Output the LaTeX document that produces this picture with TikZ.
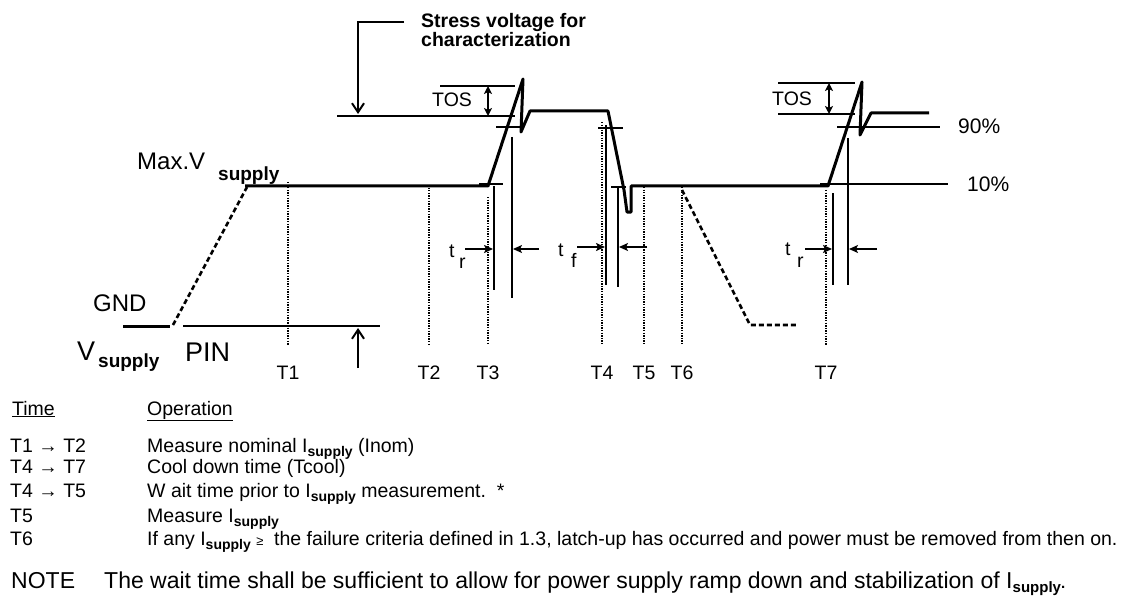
\documentclass[tikz,border=0pt]{standalone}
\usepackage{fontspec}
\setmainfont{Liberation Sans}
\usetikzlibrary{arrows.meta}

% bold lowered "supply" index
\newcommand{\supplyidx}[1][14]{\raisebox{-0.4ex}{\fontsize{#1}{#1}\selectfont\bfseries supply}}
\newcommand{\isupply}{I\supplyidx}

\begin{document}
\begin{tikzpicture}[
    x=1pt, y=-1pt,
    >=Stealth,
    wave/.style={line width=3pt, line join=round},
    thin line/.style={line width=1.6pt},
    mid line/.style={line width=2.4pt},
    dotted line/.style={line width=1.3pt, dash pattern=on 1.3pt off 1.3pt},
    dashed wave/.style={line width=2.6pt, dash pattern=on 5pt off 3pt},
    dim arrow/.style={thin line, -{Stealth[length=9pt, width=8pt, inset=2pt]}},
    tos arrow/.style={thin line, {Stealth[length=8pt, width=8pt, inset=2pt]}-{Stealth[length=8pt, width=8pt, inset=2pt]}},
    open arrow/.style={line width=2pt, -{Straight Barb[length=9pt, width=12pt]}},
    lbl/.style={inner sep=0pt, anchor=base west, font=\fontsize{19.5}{22}\selectfont},
    tlbl/.style={inner sep=0pt, anchor=base, font=\fontsize{19.5}{22}\selectfont}
]

\useasboundingbox (0,0) rectangle (1126,596);

% ==================== SUPPLY RAMP ====================
\draw[wave] (123,326) -- (170,326);
\draw[dashed wave] (173,325) -- (247,187);
\draw[mid line] (183,326) -- (380,326);
\draw[open arrow] (358,368) -- (358,328);

% Labels
\node[lbl, font=\fontsize{24}{26}\selectfont] (maxv) at (137,170) {Max.V};
\node[lbl, font=\fontsize{19}{22}\selectfont\bfseries] (maxsub) at (218,180) {supply};
\node[lbl, font=\fontsize{24}{26}\selectfont] (gnd) at (93,311) {GND};
\node[lbl, font=\fontsize{27}{29}\selectfont] (vsup) at (77,360) {V};
\node[lbl, font=\fontsize{19}{22}\selectfont\bfseries] (vsub) at (98,367) {supply};
\node[lbl, font=\fontsize{27}{29}\selectfont] (pin) at (185,361) {PIN};

% ==================== WAVEFORM ====================
\draw[wave] (245,186) -- (488,186) -- (523,79) -- (521,132) -- (530,111)
    -- (608,111) -- (624,190) -- (627,212) -- (631,212) -- (631,186)
    -- (828,186) -- (862,82) -- (860,135) -- (871,113) -- (929,113);

% Dashed power down
\draw[dashed wave] (682,190) -- (750,325) -- (798,325);

% Stress level and overshoot
\draw[thin line] (337,116) -- (515,116);
\draw[thin line] (440,86) -- (515,86);
\draw[tos arrow] (488,86) -- (488,116);
\node[lbl] (tos1) at (432,107) {TOS};
\draw[thin line] (778,83) -- (855,83);
\draw[thin line] (778,114) -- (855,114);
\draw[tos arrow] (829,83) -- (829,114);
\node[lbl] (tos2) at (772,106) {TOS};

% Stress voltage pointer
\draw[open arrow] (404,22) -- (358,22) -- (358,114);
\node[lbl, font=\fontsize{19.5}{17}\selectfont\bfseries, anchor=north west, align=left] (stress) at (421,13) {Stress voltage for\\characterization};

% 10% and 90% marks
\draw[thin line] (496,127) -- (522,127);
\draw[thin line] (479,184) -- (503,184);
\draw[thin line] (598,128) -- (623,128);
\draw[thin line] (611,187) -- (626,187);
\draw[thin line] (837,127) -- (940,127);
\draw[thin line] (820,184) -- (948,184);
\node[lbl, font=\fontsize{21}{24}\selectfont] (p90) at (958,134) {90\%};
\node[lbl, font=\fontsize{21}{24}\selectfont] (p10) at (967,191) {10\%};

% Rise / fall time markers
\draw[mid line] (494,186) -- (494,290);
\draw[mid line] (512,137) -- (512,298);
\draw[mid line] (606,125) -- (606,285);
\draw[mid line] (618,187) -- (618,287);
\draw[mid line] (833,193) -- (833,285);
\draw[thin line] (848,138) -- (848,285);

\draw[dim arrow] (465,249) -- (493,249);
\draw[dim arrow] (539,249) -- (513,249);
\draw[dim arrow] (577,247) -- (605,247);
\draw[dim arrow] (647,247) -- (619,247);
\draw[dim arrow] (805,249) -- (832,249);
\draw[dim arrow] (877,249) -- (849,249);

\node[lbl] (tr1) at (449,257) {t};
\node[lbl] (tr1s) at (459,268) {r};
\node[lbl] (tf) at (558,256) {t};
\node[lbl] (tfs) at (571,267) {f};
\node[lbl] (tr2) at (785,255) {t};
\node[lbl] (tr2s) at (797,267) {r};

% ==================== TIME MARKS ====================
\foreach \x/\y/\t in {288/182/T1, 429/185/T2, 488/197/T3, 602/122/T4, 644/187/T5, 682/187/T6, 826/190/T7}{
    \draw[dotted line] (\x,\y) -- (\x,345);
    \node[tlbl] (\t) at (\x,379) {\t};
}

% ==================== TABLE ====================
\node[lbl] (time) at (12,415) {\underline{Time}};
\node[lbl] (oper) at (147,415) {\underline{Operation}};

\node[lbl] (r1) at (10,452) {T1 → T2};
\node[lbl] (r2) at (10,473) {T4 → T7};
\node[lbl] (r3) at (10,497) {T4 → T5};
\node[lbl] (r4) at (10,522) {T5};
\node[lbl] (r5) at (10,545) {T6};

\node[lbl] (o1) at (147,452) {Measure nominal \isupply{} (Inom)};
\node[lbl] (o2) at (147,473) {Cool down time (Tcool)};
\node[lbl] (o3) at (147,497) {W ait time prior to \isupply{} measurement.\ \ *};
\node[lbl] (o4) at (147,522) {Measure \isupply};
\node[lbl] (o5) at (147,545) {If any \isupply{} {\fontsize{13}{13}\selectfont ≥}\ \ the failure criteria defined in 1.3, latch-up has occurred and power must be removed from then on.};

\node[lbl, font=\fontsize{23}{25}\selectfont] (note) at (11,588) {NOTE};
\node[lbl, font=\fontsize{23}{25}\selectfont] (notetxt) at (104,588) {The wait time shall be sufficient to allow for power supply ramp down and stabilization of I\supplyidx[15]{\fontsize{15}{15}\selectfont\bfseries .}};

\end{tikzpicture}
\end{document}
